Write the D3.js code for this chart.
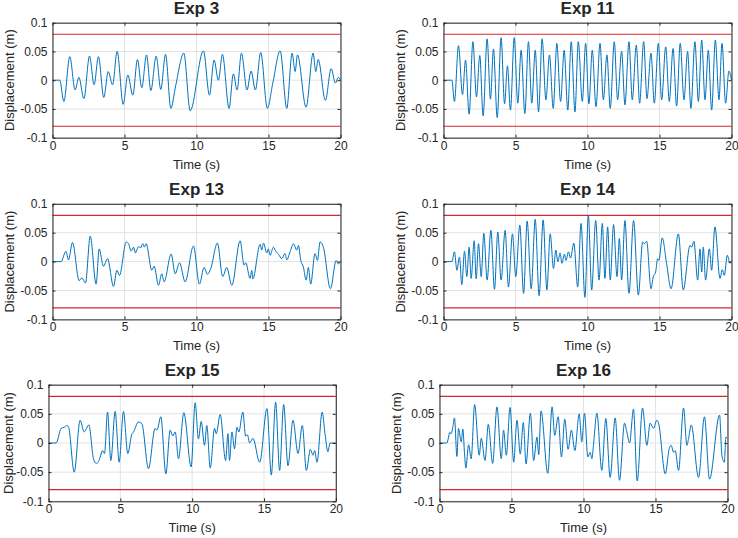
<!DOCTYPE html>
<html><head><meta charset="utf-8">
<script src="https://cdn.jsdelivr.net/npm/d3@7"></script>
<style>
body{margin:0;background:#fff}
svg{display:block}
text{font-family:"Liberation Sans",Arial,Helvetica,sans-serif;fill:#262626}
</style>
</head><body>
<svg id="chart" width="738" height="538"></svg>
<script>
// ---------- data ----------
const titles = ["Exp 3", "Exp 11", "Exp 13", "Exp 14", "Exp 15", "Exp 16"];
const xTicks = [0, 5, 10, 15, 20];
const xTickLabels = ["0", "5", "10", "15", "20"];
const yTicks = [-0.1, -0.05, 0, 0.05, 0.1];
const yTickLabels = ["-0.1", "-0.05", "0", "0.05", "0.1"];
const limitValues = [0.08, -0.08];
const xLabel = "Time (s)";
const yLabel = "Displacement (m)";

const exp3Time = [0,0.5,0.79,1.20,1.57,1.83,2.18,2.57,2.89,3.19,3.56,3.87,4.17,4.49,4.91,5.23,5.58,5.90,6.20,6.53,6.83,7.20,7.52,7.85,8.22,8.55,9.12,9.56,10.48,10.90,11.22,11.52,11.80,12.26,12.56,12.82,13.12,13.51,13.79,14.09,14.46,14.92,15.30,15.81,16.27,16.64,16.85,17.01,17.61,18.10,18.28,18.45,18.95,19.35,19.65,19.85,20];
const exp3Disp = [0,0,-0.037,0.041,-0.017,0.005,-0.032,0.042,-0.008,0.041,-0.030,0.015,-0.008,0.050,-0.042,0.009,-0.026,0.036,-0.013,0.044,-0.018,0.042,-0.016,0.045,-0.049,-0.010,0.047,-0.053,0.051,-0.026,0.035,0.000,0.045,-0.049,0.011,-0.017,0.047,-0.017,0.016,-0.017,0.048,-0.049,-0.005,0.051,-0.049,0.047,0.015,0.044,-0.047,0.047,0.015,0.036,-0.035,0.020,-0.005,0.005,0.000];

const exp11Time = [0,0.58,0.76,1.04,1.32,1.53,1.78,2.04,2.29,2.52,2.75,3.03,3.26,3.47,3.73,4.00,4.24,4.44,4.65,4.91,5.16,5.39,5.65,5.90,6.13,6.37,6.60,6.85,7.11,7.36,7.62,7.87,8.13,8.38,8.63,8.87,9.13,9.36,9.64,9.87,10.10,10.33,10.59,10.87,11.10,11.35,11.58,11.86,12.09,12.37,12.60,12.88,13.11,13.39,13.62,13.90,14.13,14.41,14.64,14.92,15.15,15.43,15.68,15.94,16.19,16.44,16.70,16.95,17.18,17.46,17.70,17.93,18.16,18.39,18.62,18.88,19.13,19.34,19.59,19.82,20];
const exp11Disp = [0,0,-0.037,0.060,-0.025,0.035,-0.059,0.067,-0.029,0.043,-0.062,0.072,-0.033,0.054,-0.065,0.074,-0.041,0.025,-0.052,0.074,-0.040,0.052,-0.058,0.067,-0.040,0.052,-0.055,0.072,-0.034,0.044,-0.049,0.064,-0.037,0.052,-0.052,0.067,-0.055,0.067,-0.037,0.064,-0.041,0.052,-0.046,0.064,-0.034,0.044,-0.049,0.067,-0.034,0.050,-0.043,0.067,-0.034,0.061,-0.040,0.067,-0.032,0.047,-0.040,0.064,-0.034,0.058,-0.037,0.055,-0.045,0.064,-0.034,0.050,-0.049,0.067,-0.037,0.070,-0.034,0.052,-0.052,0.070,-0.034,0.064,-0.040,0.016,0.000];

const exp13Time = [0,0.6,0.93,1.11,1.39,1.85,2.04,2.29,2.62,3.03,3.24,3.54,3.82,4.24,4.47,4.65,5.12,5.28,5.46,5.63,5.76,5.97,6.13,6.27,6.39,6.50,6.90,7.06,7.36,7.59,7.75,8.24,8.52,8.82,9.21,9.79,10.20,10.53,10.76,10.99,11.45,11.82,12.10,12.45,13.03,13.30,13.42,13.72,13.84,13.91,14.42,14.53,14.65,14.88,14.99,15.11,15.34,15.53,15.69,15.92,16.15,16.27,16.50,16.73,16.96,17.08,17.24,17.42,17.61,17.77,17.93,18.23,18.40,18.58,18.81,19.30,19.70,19.85,20];
const exp13Disp = [0,0,0.018,0.003,0.033,-0.033,-0.028,-0.037,0.044,-0.039,0.022,-0.008,0.005,-0.043,-0.015,-0.024,0.034,0.031,0.018,0.025,0.015,0.026,0.024,0.031,0.025,0.031,-0.015,-0.008,-0.041,-0.021,-0.035,0.013,-0.021,-0.002,-0.035,0.027,-0.039,-0.010,-0.022,-0.012,0.032,-0.026,-0.010,-0.041,0.036,-0.006,-0.002,-0.029,-0.015,-0.030,0.030,0.020,0.032,0.015,0.022,0.011,0.025,0.017,0.013,0.005,0.014,0.003,0.017,0.031,0.020,0.028,0.002,-0.009,-0.032,-0.010,-0.039,0.014,0.002,0.034,0.025,-0.047,0.002,-0.004,0.000];

const exp14Time = [0,0.58,0.76,0.93,1.11,1.27,1.46,1.62,1.78,1.92,2.13,2.27,2.43,2.62,2.80,3.03,3.29,3.54,3.77,4.00,4.28,4.51,4.79,5.02,5.30,5.56,5.81,6.09,6.37,6.64,6.92,7.18,7.41,7.64,7.80,7.94,8.10,8.22,8.40,8.50,8.68,8.82,9.05,9.32,9.55,9.82,10.06,10.29,10.57,10.80,11.03,11.21,11.40,11.58,11.81,12.05,12.21,12.37,12.60,12.88,13.20,13.53,13.83,13.95,14.11,14.41,14.57,14.73,14.87,14.96,15.19,15.49,15.80,16.31,16.65,17.12,17.23,17.39,17.65,17.81,17.93,18.04,18.20,18.46,18.62,18.85,19.20,19.36,19.50,19.71,19.89,20];
const exp14Disp = [0,0,0.017,-0.015,0.008,-0.040,0.018,-0.026,0.025,-0.029,0.036,-0.030,0.031,-0.026,0.049,-0.032,0.054,-0.048,0.051,-0.032,0.054,-0.044,0.048,-0.026,0.063,-0.055,0.070,-0.047,0.073,-0.059,0.072,-0.049,0.048,-0.012,0.020,0.000,0.015,-0.003,0.013,0.002,0.017,0.006,0.032,-0.044,0.066,-0.062,0.080,-0.049,0.071,-0.032,0.066,-0.029,0.060,-0.032,0.064,-0.026,0.040,-0.032,0.071,-0.055,0.071,-0.058,0.034,0.031,0.035,-0.047,-0.026,-0.018,0.005,0.002,0.041,-0.003,-0.047,0.048,-0.049,0.028,0.025,0.035,-0.032,0.022,-0.018,0.025,-0.032,0.022,-0.015,0.060,-0.029,-0.014,-0.024,0.011,-0.003,0.002];

const exp15Time = [0,0.53,0.88,1.09,1.28,1.40,1.79,2.20,2.48,2.81,3.13,3.32,3.48,3.60,3.76,3.90,4.11,4.34,4.64,4.92,5.22,5.52,5.80,5.92,6.26,6.50,6.96,7.42,7.55,7.82,8.17,8.47,8.65,8.82,9.05,9.42,9.93,10.21,10.44,10.63,10.86,11.02,11.26,11.56,11.68,11.95,12.33,12.49,12.60,12.77,12.95,13.12,13.25,13.53,13.72,13.85,14.00,14.23,14.70,15.21,15.51,15.81,16.09,16.37,16.67,17.02,17.37,17.67,17.95,18.23,18.41,18.53,18.69,19.05,19.25,19.45,19.60,20];
const exp15Disp = [0,0,0.025,0.027,0.030,0.027,-0.050,0.039,0.019,0.031,-0.027,-0.035,-0.032,-0.024,-0.013,-0.018,0.053,-0.030,0.054,-0.033,0.054,-0.018,0.015,0.019,0.036,0.033,-0.044,0.025,0.022,0.045,-0.053,0.022,0.012,0.019,-0.027,0.052,-0.041,0.069,0.007,0.037,-0.004,0.030,-0.043,0.025,0.016,0.049,-0.030,0.016,-0.030,0.019,-0.010,0.027,0.019,0.053,0.012,0.014,0.000,0.008,-0.033,0.059,-0.055,0.070,-0.047,0.066,-0.039,0.039,-0.018,0.030,-0.047,-0.011,-0.021,-0.013,-0.033,0.053,0.016,-0.015,0.000,0.000];

const exp16Time = [0,0.51,0.63,0.70,0.81,0.93,1.04,1.21,1.32,1.51,1.62,1.74,1.83,2.02,2.20,2.44,2.76,2.90,3.16,3.39,3.69,3.99,4.29,4.45,4.64,4.90,5.15,5.38,5.61,5.82,6.01,6.31,6.54,6.77,6.89,7.05,7.52,7.82,8.00,8.24,8.47,8.70,8.93,9.16,9.40,9.70,9.88,10.07,10.30,10.46,10.58,10.69,10.93,11.27,11.55,11.85,12.20,12.50,12.85,13.01,13.20,13.47,13.73,14.10,14.40,14.63,14.86,15.09,15.21,15.68,15.95,16.09,16.25,16.37,16.60,16.95,17.18,17.30,17.48,17.99,18.40,18.75,19.45,19.61,19.78,19.89,20];
const exp16Disp = [0,0,0.010,0.018,0.016,0.028,0.043,-0.023,0.025,0.002,0.024,-0.019,-0.043,-0.003,-0.027,0.066,-0.021,0.008,-0.030,0.032,-0.035,0.062,-0.027,0.022,-0.021,0.061,-0.033,0.039,-0.019,0.035,-0.036,0.051,-0.030,0.010,-0.020,0.055,-0.052,0.062,0.013,0.045,-0.024,0.041,-0.011,0.022,-0.013,0.050,0.002,0.051,-0.024,-0.016,-0.027,-0.004,0.051,-0.047,0.042,-0.059,0.043,-0.064,0.034,0.019,0.000,0.058,-0.065,0.060,-0.004,0.034,0.025,0.039,0.034,-0.053,-0.010,-0.004,-0.016,-0.013,-0.047,0.060,-0.004,0.008,0.031,-0.059,0.045,-0.062,0.048,-0.021,-0.033,0.010,0.008];

const seriesTime = [exp3Time, exp11Time, exp13Time, exp14Time, exp15Time, exp16Time];
const seriesDisp = [exp3Disp, exp11Disp, exp13Disp, exp14Disp, exp15Disp, exp16Disp];

// ---------- layout ----------
const boxes = [
  {l: 52.5, r: 340.5, t: 22.7, b: 137.7},
  {l: 443.5, r: 731.5, t: 22.7, b: 137.7},
  {l: 52.5, r: 340.5, t: 203.8, b: 319.4},
  {l: 443.5, r: 731.5, t: 203.8, b: 319.4},
  {l: 48.5, r: 335.8, t: 384.7, b: 501.3},
  {l: 439.5, r: 727.5, t: 384.7, b: 501.3}
];

const svg = d3.select("#chart");
const axisColor = "#262626";
const gridColor = "#e3e3e3";

titles.forEach((title, i) => {
  const bx = boxes[i];
  const x = d3.scaleLinear().domain([0, 20]).range([bx.l, bx.r]);
  const y = d3.scaleLinear().domain([-0.1, 0.1]).range([bx.b, bx.t]);
  const g = svg.append("g");

  // grid
  g.selectAll(".gx").data(xTicks).join("line")
    .attr("x1", d => x(d)).attr("x2", d => x(d))
    .attr("y1", bx.t).attr("y2", bx.b)
    .attr("stroke", gridColor).attr("stroke-width", 1);
  g.selectAll(".gy").data(yTicks).join("line")
    .attr("x1", bx.l).attr("x2", bx.r)
    .attr("y1", d => y(d)).attr("y2", d => y(d))
    .attr("stroke", gridColor).attr("stroke-width", 1);

  // limit lines
  g.selectAll(".lim").data(limitValues).join("line")
    .attr("x1", bx.l).attr("x2", bx.r)
    .attr("y1", d => y(d)).attr("y2", d => y(d))
    .attr("stroke", "#d9262b").attr("stroke-width", 1.1);

  // series
  const pts = seriesTime[i].map((t, k) => [t, seriesDisp[i][k]]);
  const line = d3.line().x(d => x(d[0])).y(d => y(d[1])).curve(d3.curveMonotoneX);
  g.append("path").datum(pts)
    .attr("d", line)
    .attr("fill", "none")
    .attr("stroke", "#0072BD")
    .attr("stroke-width", 1)
    .attr("stroke-linejoin", "round");

  // axes
  const styleAxis = sel => {
    sel.select(".domain").attr("stroke", axisColor);
    sel.selectAll(".tick line").attr("stroke", axisColor);
    sel.selectAll(".tick text").attr("fill", axisColor).style("font-size", "12px")
      .style("font-family", '"Liberation Sans",Arial,Helvetica,sans-serif');
  };
  g.append("g").attr("transform", `translate(0,${bx.b})`)
    .call(d3.axisBottom(x).tickValues(xTicks).tickFormat((d, k) => xTickLabels[k])
      .tickSize(-3).tickSizeOuter(0).tickPadding(3.5))
    .call(styleAxis);
  g.append("g").attr("transform", `translate(0,${bx.t})`)
    .call(d3.axisTop(x).tickValues(xTicks).tickFormat("").tickSize(-3).tickSizeOuter(0))
    .call(styleAxis);
  g.append("g").attr("transform", `translate(${bx.l},0)`)
    .call(d3.axisLeft(y).tickValues(yTicks).tickFormat((d, k) => yTickLabels[k])
      .tickSize(-3).tickSizeOuter(0).tickPadding(5))
    .call(styleAxis);
  g.append("g").attr("transform", `translate(${bx.r},0)`)
    .call(d3.axisRight(y).tickValues(yTicks).tickFormat("").tickSize(-3).tickSizeOuter(0))
    .call(styleAxis);

  const cx = (bx.l + bx.r) / 2, cy = (bx.t + bx.b) / 2;
  g.append("text").attr("x", cx).attr("y", bx.t - 9)
    .attr("text-anchor", "middle").style("font-size", "17px").style("font-weight", "bold")
    .attr("fill", "#000").text(title);
  g.append("text").attr("x", cx).attr("y", bx.b + 31)
    .attr("text-anchor", "middle").style("font-size", "13px").text(xLabel);
  g.append("text").attr("transform", `translate(${Math.max(bx.l - 39, 12.5)},${cy}) rotate(-90)`)
    .attr("text-anchor", "middle").style("font-size", "13px").text(yLabel);
});
</script>
</body></html>
